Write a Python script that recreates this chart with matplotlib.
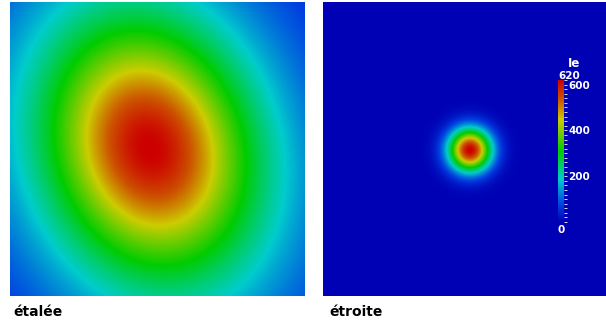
import numpy as np
import matplotlib
matplotlib.use("Agg")
import matplotlib.pyplot as plt
from matplotlib.colors import LinearSegmentedColormap
from matplotlib.ticker import MultipleLocator

# panel titles and colour scale
panel_labels = ["étalée", "étroite"]
cbar_title = "Ie"
vmin, vmax = 0, 620
cbar_ticks = [200, 400, 600]

# broad spot (left panel), Moffat-like profile, in panel pixels
wide_peak = 620
wide_center = (140, 146)
wide_width = (145, 186)     # minor, major
wide_angle = -18            # degrees
wide_beta = 2.0

# narrow spot (right panel), gaussian, in panel pixels
narrow_peak = 620
narrow_center = (147, 148)
narrow_sigma = 15

cmap = LinearSegmentedColormap.from_list(
    "pv_rainbow",
    [
        (0.00, (0.0, 0.0, 0.71)),
        (0.12, (0.0, 0.25, 0.88)),
        (0.30, (0.0, 0.80, 0.80)),
        (0.50, (0.0, 0.80, 0.0)),
        (0.72, (0.80, 0.80, 0.0)),
        (0.86, (0.80, 0.35, 0.0)),
        (1.00, (0.80, 0.0, 0.0)),
    ],
)


def grid(w, h, center, angle=0):
    x, y = np.meshgrid(np.arange(w) + 0.5, np.arange(h) + 0.5)
    dx = x - center[0]
    dy = y - center[1]
    t = np.deg2rad(angle)
    u = dx * np.cos(t) + dy * np.sin(t)
    v = -dx * np.sin(t) + dy * np.cos(t)
    return u, v


fig = plt.figure(figsize=(6.06, 3.27), dpi=100)

W, H = 606, 327
ax1 = fig.add_axes([10 / W, (H - 296) / H, 295 / W, 294 / H])
ax2 = fig.add_axes([323 / W, (H - 296) / H, 283 / W, 294 / H])

u, v = grid(295, 294, wide_center, wide_angle)
s2 = (u / wide_width[0]) ** 2 + (v / wide_width[1]) ** 2
field1 = wide_peak / (1 + s2) ** wide_beta

u, v = grid(283, 294, narrow_center)
field2 = narrow_peak * np.exp(-0.5 * (u ** 2 + v ** 2) / narrow_sigma ** 2)

ax1.imshow(field1, cmap=cmap, vmin=vmin, vmax=vmax, aspect="auto",
           interpolation="bilinear")
im = ax2.imshow(field2, cmap=cmap, vmin=vmin, vmax=vmax, aspect="auto",
                interpolation="bilinear")

for ax in [ax1, ax2]:
    ax.set_xticks([])
    ax.set_yticks([])
    for s in ax.spines.values():
        s.set_visible(False)

for xpix, label in zip([13, 329], panel_labels):
    fig.text(xpix / W, (H - 305) / H, label, ha="left", va="top",
             fontsize=10, fontweight="bold", color="black")

# colour bar inside right panel
cax = fig.add_axes([558 / W, (H - 222) / H, 6 / W, 142 / H])
cb = fig.colorbar(im, cax=cax, orientation="vertical")
cb.outline.set_visible(False)
cb.set_ticks(cbar_ticks)
cax.yaxis.set_minor_locator(MultipleLocator(20))
cax.tick_params(which="both", colors="white", labelcolor="white",
                labelsize=7.5, length=2, width=0.6, pad=1)
for t in cax.get_yticklabels():
    t.set_fontweight("bold")
cax.text(0.0, 0.99, str(vmax), transform=cax.transAxes, ha="left",
         va="bottom", fontsize=7.5, fontweight="bold", color="white")
cax.text(0.5, -0.02, str(vmin), transform=cax.transAxes, ha="center",
         va="top", fontsize=7.5, fontweight="bold", color="white")
cax.text(2.6, 1.07, cbar_title, transform=cax.transAxes, ha="center",
         va="bottom", fontsize=8.5, fontweight="bold", color="white")

fig.savefig("out.png", dpi=100)
